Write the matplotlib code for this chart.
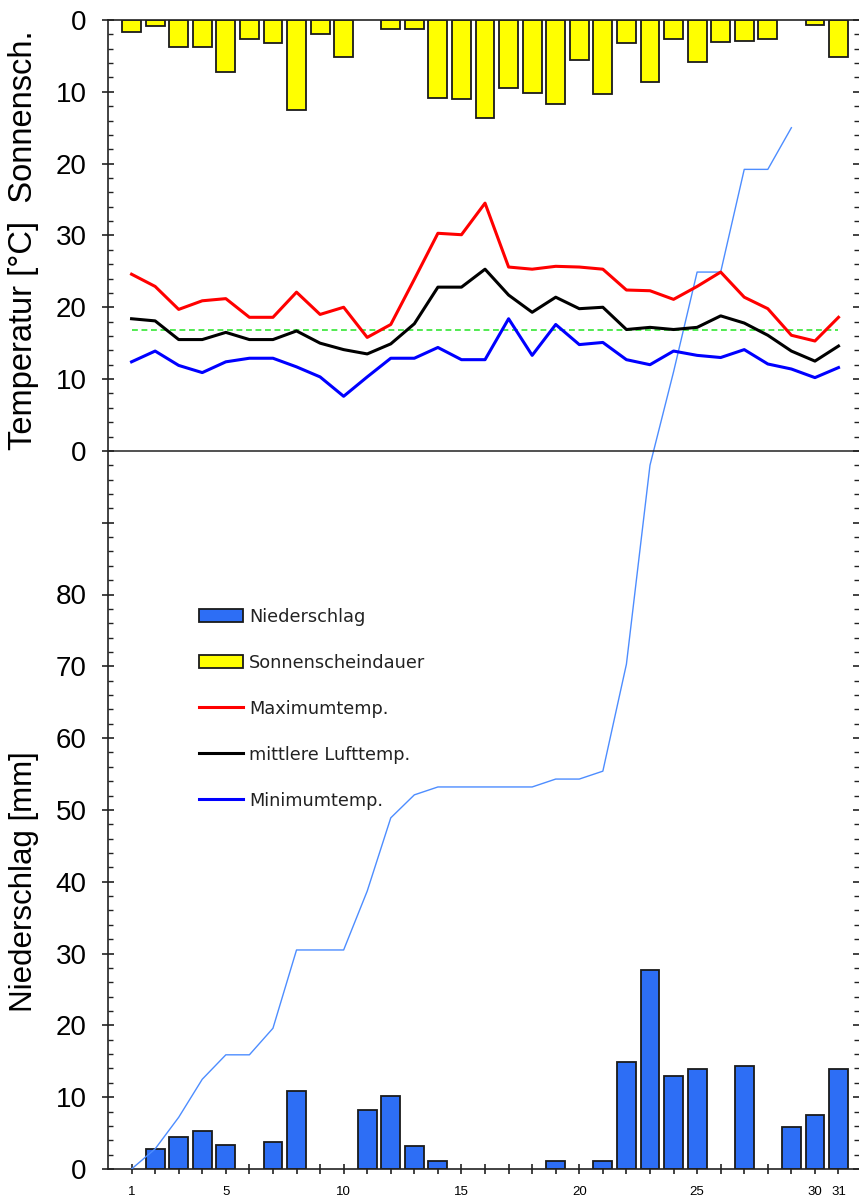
import numpy as np
import matplotlib
matplotlib.use("Agg")
import matplotlib.pyplot as plt
from matplotlib.patches import Patch
from matplotlib.lines import Line2D
from matplotlib.ticker import FixedLocator, FixedFormatter, MultipleLocator

# ---------------- data ----------------
days = np.arange(1, 32)
sunshine = [1.7, 0.9, 3.8, 3.8, 7.2, 2.6, 3.2, 12.6, 1.9, 5.2, 0.0, 1.2, 1.2, 10.8, 11.0,
            13.6, 9.4, 10.1, 11.7, 5.6, 10.3, 3.2, 8.7, 2.6, 5.9, 3.1, 2.9, 2.6, 0.0, 0.7, 5.2]
precip = [0.0, 2.8, 4.4, 5.3, 3.4, 0.0, 3.7, 10.9, 0.0, 0.0, 8.2, 10.2, 3.2, 1.1, 0.0,
          0.0, 0.0, 0.0, 1.1, 0.0, 1.1, 14.9, 27.7, 13.0, 13.9, 0.0, 14.3, 0.0, 5.8, 7.5, 13.9]
tmax = [24.6, 22.9, 19.7, 20.9, 21.2, 18.6, 18.6, 22.1, 19.0, 20.0, 15.8, 17.6, 23.9, 30.3, 30.1,
        34.5, 25.6, 25.3, 25.7, 25.6, 25.3, 22.4, 22.3, 21.1, 22.9, 24.9, 21.4, 19.8, 16.1, 15.3, 18.6]
tmean = [18.4, 18.1, 15.5, 15.5, 16.5, 15.5, 15.5, 16.7, 15.0, 14.1, 13.5, 14.9, 17.7, 22.8, 22.8,
         25.3, 21.7, 19.3, 21.4, 19.8, 20.0, 16.9, 17.2, 16.9, 17.2, 18.8, 17.8, 16.1, 13.9, 12.5, 14.6]
tmin = [12.4, 13.9, 11.9, 10.9, 12.4, 12.9, 12.9, 11.7, 10.3, 7.6, 10.3, 12.9, 12.9, 14.4, 12.7,
        12.7, 18.4, 13.3, 17.6, 14.8, 15.1, 12.7, 12.0, 13.9, 13.3, 13.0, 14.1, 12.1, 11.4, 10.2, 11.6]
tmean_ref = 16.9          # green dashed reference temperature
cum_days_shown = 29       # cumulative precipitation line drawn through day 29

xtick_labels = {1: "1", 5: "5", 10: "10", 15: "15", 20: "20", 25: "25", 30: "30", 31: "31"}
legend_labels = ["Niederschlag", "Sonnenscheindauer", "Maximumtemp.",
                 "mittlere Lufttemp.", "Minimumtemp."]

# combined vertical scale: precipitation 0..~90, temperature offset 100, sunshine hanging from 160
T_OFF = 100
S_TOP = 160

sunshine = np.array(sunshine)
precip = np.array(precip)
tmax = np.array(tmax)
tmean = np.array(tmean)
tmin = np.array(tmin)

# ---------------- figure ----------------
W, H = 859, 1198
fig = plt.figure(figsize=(W / 100, H / 100), dpi=100)
fig.patch.set_facecolor("white")
ax = fig.add_axes([108 / W, (H - 1169) / H, (W - 108) / W, (1169 - 20) / H])
ax.set_xlim(0, 31.87)
ax.set_ylim(0, S_TOP)

c_prec = "#2d6ef5"
c_sun = "#ffff00"
edge = "#1a1a1a"

m = sunshine > 0
ax.bar(days[m], -sunshine[m], bottom=S_TOP, width=0.8, color=c_sun,
       edgecolor=edge, linewidth=1.3, zorder=2)
m = precip > 0
ax.bar(days[m], precip[m], width=0.8, color=c_prec,
       edgecolor=edge, linewidth=1.3, zorder=2)

cum = np.cumsum(precip)
ax.plot(days[:cum_days_shown], cum[:cum_days_shown], color="#4d8dff", lw=1.0, zorder=3)

ax.axhline(T_OFF, color="#222222", lw=1.1, zorder=3)
ax.hlines(T_OFF + tmean_ref, 1, 31, colors="#33e633", lw=1.2,
          linestyles=(0, (3.5, 2.2)), zorder=3)

ax.plot(days, T_OFF + tmax, color="#ff0000", lw=2.2, zorder=4)
ax.plot(days, T_OFF + tmean, color="#000000", lw=2.2, zorder=4)
ax.plot(days, T_OFF + tmin, color="#0000ff", lw=2.2, zorder=4)

# spines
for s in ["left", "bottom", "top"]:
    ax.spines[s].set_color("#222222")
    ax.spines[s].set_linewidth(1.2)
ax.spines["right"].set_visible(False)

# y ticks
yt = np.arange(0, S_TOP + 1, 10)
ylab = []
for v in yt:
    if v <= 80:
        ylab.append(str(v))
    elif v < T_OFF:
        ylab.append("")
    elif v <= 130:
        ylab.append(str(v - T_OFF))
    else:
        ylab.append(str(S_TOP - v))
ax.yaxis.set_major_locator(FixedLocator(yt))
ax.yaxis.set_major_formatter(FixedFormatter(ylab))
ax.yaxis.set_minor_locator(MultipleLocator(2))
ax.tick_params(axis="y", which="major", direction="inout", length=9, width=1.2,
               color="#222222", labelsize=20, pad=11, right=True)
ax.tick_params(axis="y", which="minor", direction="in", length=3.5, width=1.0,
               color="#222222", right=True)
for t in ax.get_yticklabels():
    t.set_fontfamily("Liberation Sans")

# x ticks
ax.xaxis.set_major_locator(FixedLocator(days))
ax.xaxis.set_major_formatter(FixedFormatter([xtick_labels.get(d, "") for d in days]))
ax.tick_params(axis="x", which="major", direction="inout", length=7, width=1.2,
               color="#222222", labelsize=9.5, pad=9)
for t in ax.get_xticklabels():
    t.set_fontfamily("Liberation Sans")

# axis labels
fig.text(24 / W, 1 - 240 / H, "Temperatur [°C]  Sonnensch.", rotation=90,
         ha="center", va="center", fontsize=23.5, family="Liberation Sans")
fig.text(24 / W, 1 - 882 / H, "Niederschlag [mm]", rotation=90,
         ha="center", va="center", fontsize=22.5, family="Liberation Sans")

# legend
handles = [Patch(facecolor=c_prec, edgecolor=edge, linewidth=1.3),
           Patch(facecolor=c_sun, edgecolor=edge, linewidth=1.3),
           Line2D([], [], color="#ff0000", lw=2.2),
           Line2D([], [], color="#000000", lw=2.2),
           Line2D([], [], color="#0000ff", lw=2.2)]
leg = fig.legend(handles, legend_labels, loc="upper left",
                 bbox_to_anchor=(199 / W, 1 - 608 / H), frameon=False,
                 prop={"family": "DejaVu Sans", "size": 12.8},
                 borderpad=0, borderaxespad=0, handlelength=2.45, handleheight=0.75,
                 handletextpad=0.35, labelspacing=1.57)
for t in leg.get_texts():
    t.set_color("#222222")

fig.savefig("out.png", dpi=100)
